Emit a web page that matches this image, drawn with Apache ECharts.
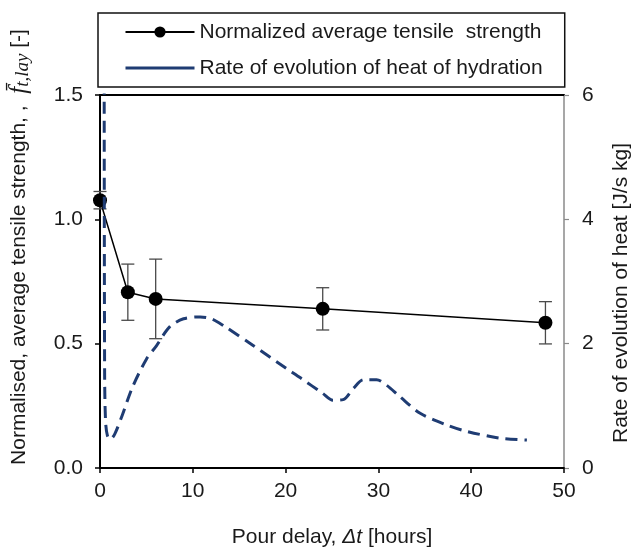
<!DOCTYPE html>
<html>
<head>
<meta charset="utf-8">
<script src="https://cdn.jsdelivr.net/npm/echarts@6/dist/echarts.min.js"></script>
<style>html,body{margin:0;padding:0;background:#fff;}#c{width:632px;height:553px;}</style>
</head>
<body>
<div id="c"></div>
<script>
// Normalized average tensile strength
var strengthX = [0, 3, 6, 24, 48];
var strengthMean = [1.077, 0.707, 0.68, 0.64, 0.584];
var strengthErr = [0.035, 0.113, 0.16, 0.085, 0.085];
// Rate of evolution of heat of hydration [J/s kg]
var heatT = [0.45, 0.5, 0.6, 0.8, 1.1, 1.6, 2.4, 3.5, 5, 6.1, 7.5, 9, 10.8, 12, 13.3, 16.5, 20.1, 21.6, 24, 25.1, 26.2, 27.3, 28.4, 29.8, 30.9, 32.3, 34.5, 37.4, 39.5, 43.1, 46];
var heatV = [6.5, 1.5, 0.75, 0.52, 0.46, 0.55, 0.85, 1.3, 1.75, 1.97, 2.27, 2.4, 2.43, 2.4, 2.29, 1.97, 1.6, 1.45, 1.2, 1.09, 1.1, 1.28, 1.42, 1.42, 1.33, 1.15, 0.88, 0.69, 0.59, 0.48, 0.45];
var xTicks = [0, 10, 20, 30, 40, 50];
var leftTicks = [0, 0.5, 1.0, 1.5];
var rightTicks = [0, 2, 4, 6];
var names = ['Normalized average tensile  strength', 'Rate of evolution of heat of hydration'];

var FONT = 'Liberation Sans, Arial, sans-serif';
var TXT = '#1a1a1a';
var NAVY = '#1F3C73';

var chart = echarts.init(document.getElementById('c'), null, {renderer: 'canvas'});

var strengthData = strengthX.map(function (x, i) { return [x, strengthMean[i]]; });
var errData = strengthX.map(function (x, i) { return [x, strengthMean[i], strengthErr[i]]; });
var heatData = heatT.map(function (t, i) { return [t, heatV[i]]; });

var option = {
  backgroundColor: '#fff',
  animation: false,
  textStyle: {fontFamily: FONT, color: TXT},
  grid: {left: 100, right: 68, top: 95, bottom: 83, containLabel: false},
  legend: {
    orient: 'vertical',
    left: 98, top: 13,
    padding: [8, 22, 8, 26],
    itemWidth: 69, itemHeight: 14, itemGap: 14,
    borderColor: '#111', borderWidth: 1.5,
    textStyle: {fontFamily: FONT, fontSize: 21, color: TXT, lineHeight: 22},
    data: [
      {name: names[0]},
      {name: names[1], itemStyle: {opacity: 0}, lineStyle: {type: 'solid', width: 3, color: NAVY, opacity: 1}}
    ]
  },
  xAxis: [{
    type: 'value', min: xTicks[0], max: xTicks[xTicks.length - 1], interval: 10,
    position: 'bottom',
    axisLine: {onZero: false, lineStyle: {color: '#000', width: 2}},
    axisTick: {show: true, inside: false, length: 5, lineStyle: {color: '#000', width: 1.5}},
    axisLabel: {fontSize: 21, color: TXT, fontFamily: FONT, margin: 13},
    splitLine: {show: false},
    name: 'Pour delay, {i|Δt} [hours]',
    nameLocation: 'middle', nameGap: 59,
    nameTextStyle: {fontSize: 21, color: TXT, fontFamily: FONT,
      rich: {i: {fontStyle: 'italic', fontSize: 21, fontFamily: FONT, color: TXT}}}
  }, {
    type: 'value', min: 0, max: 50, position: 'top',
    axisLine: {show: true, onZero: false, lineStyle: {color: '#000', width: 2}},
    axisTick: {show: false}, axisLabel: {show: false}, splitLine: {show: false}
  }],
  yAxis: [{
    type: 'value', min: leftTicks[0], max: leftTicks[leftTicks.length - 1], interval: 0.5,
    position: 'left',
    axisLine: {show: true, onZero: false, lineStyle: {color: '#000', width: 2}},
    axisTick: {show: true, inside: false, length: 5, lineStyle: {color: '#000', width: 1.5}},
    axisLabel: {fontSize: 21, color: TXT, fontFamily: FONT, margin: 17,
      formatter: function (v) { return v.toFixed(1); }},
    splitLine: {show: false}
  }, {
    type: 'value', min: rightTicks[0], max: rightTicks[rightTicks.length - 1], interval: 2,
    position: 'right',
    axisLine: {show: true, onZero: false, lineStyle: {color: '#8a8a8a', width: 1.5}},
    axisTick: {show: true, inside: false, length: 5, lineStyle: {color: '#8a8a8a', width: 1.2}},
    axisLabel: {fontSize: 21, color: TXT, fontFamily: FONT, margin: 18},
    splitLine: {show: false}
  }],
  series: [{
    type: 'custom', name: 'err', xAxisIndex: 0, yAxisIndex: 0, z: 2,
    encode: {x: 0, y: 1},
    data: errData,
    renderItem: function (params, api) {
      var x = api.value(0), y = api.value(1), e = api.value(2);
      var top = api.coord([x, y + e]);
      var bot = api.coord([x, y - e]);
      var w = 6.5;
      var st = {stroke: '#4a4a4a', lineWidth: 1.3};
      return {type: 'group', children: [
        {type: 'line', shape: {x1: top[0], y1: top[1], x2: bot[0], y2: bot[1]}, style: st},
        {type: 'line', shape: {x1: top[0] - w, y1: top[1], x2: top[0] + w, y2: top[1]}, style: st},
        {type: 'line', shape: {x1: bot[0] - w, y1: bot[1], x2: bot[0] + w, y2: bot[1]}, style: st}
      ]};
    }
  }, {
    type: 'line', name: names[0], xAxisIndex: 0, yAxisIndex: 0, z: 3,
    data: strengthData,
    symbol: 'circle', symbolSize: 14,
    lineStyle: {color: '#000', width: 1.5},
    itemStyle: {color: '#000'}
  }, {
    type: 'line', name: names[1], xAxisIndex: 0, yAxisIndex: 1, z: 4,
    data: heatData,
    symbol: 'none', smooth: 0.3, clip: true,
    lineStyle: {color: NAVY, width: 3, type: [12, 7]},
    itemStyle: {color: NAVY}
  }],
  graphic: [{
    type: 'text', x: 19, y: 247, rotation: Math.PI / 2,
    style: {
      text: '{n|Normalised, average tensile strength, ,  }{f|f̄}{s|t,lay}{n| [-]}',
      align: 'center', verticalAlign: 'middle',
      rich: {
        n: {fontSize: 21, fontFamily: FONT, fill: TXT},
        f: {fontSize: 25, fontFamily: 'Liberation Serif, serif', fontStyle: 'italic', fill: TXT},
        s: {fontSize: 19, fontFamily: 'Liberation Serif, serif', fontStyle: 'italic', fill: TXT, padding: [8, 0, 0, 0]}
      }
    }
  }, {
    type: 'text', x: 621, y: 293, rotation: Math.PI / 2,
    style: {
      text: 'Rate of evolution of heat [J/s kg]',
      align: 'center', verticalAlign: 'middle',
      fontSize: 21, fontFamily: FONT, fill: TXT
    }
  }]
};
chart.setOption(option);
</script>
</body>
</html>
